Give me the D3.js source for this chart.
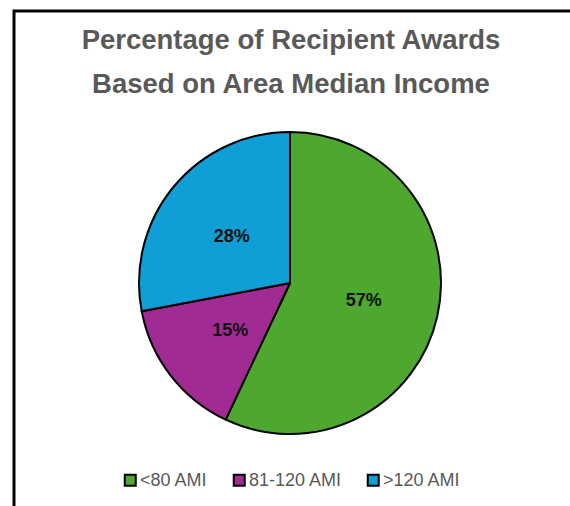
<!DOCTYPE html>
<html>
<head>
<meta charset="utf-8">
<script src="https://cdn.jsdelivr.net/npm/d3@7"></script>
<style>
  html, body { margin: 0; padding: 0; background: #fff; }
  svg { display: block; }
</style>
</head>
<body>
<svg id="chart" width="570" height="506"></svg>
<script>
const titleLines = ["Percentage of Recipient Awards", "Based on Area Median Income"];
const categories = ["<80 AMI", "81-120 AMI", ">120 AMI"];
const values = [57, 15, 28];
const labels = ["57%", "15%", "28%"];
const colors = ["#4EA72E", "#A02B93", "#0F9ED5"];

const svg = d3.select("#chart");
const W = 570, H = 506;

// frame (left and top edges visible)
svg.append("path")
  .attr("d", "M14,506 V11 H570")
  .attr("fill", "none")
  .attr("stroke", "#000")
  .attr("stroke-width", 3);

// title
const title = svg.append("text")
  .attr("text-anchor", "middle")
  .attr("font-family", "'Liberation Sans', Arial, sans-serif")
  .attr("font-weight", "bold")
  .attr("font-size", 27.5)
  .attr("fill", "#595959");
titleLines.forEach((t, i) => {
  title.append("tspan").attr("x", 291).attr("y", 49 + i * 44).text(t);
});

// pie
const cx = 290, cy = 283, r = 151;
const pie = d3.pie().sort(null).value(d => d)(values);
const arc = d3.arc().innerRadius(0).outerRadius(r);
const g = svg.append("g").attr("transform", `translate(${cx},${cy})`);
g.selectAll("path.slice").data(pie).join("path")
  .attr("class", "slice")
  .attr("d", arc)
  .attr("fill", (d, i) => colors[i])
  .attr("stroke", "#000")
  .attr("stroke-width", 2)
  .attr("stroke-linejoin", "round");

g.selectAll("text.lbl").data(pie).join("text")
  .attr("class", "lbl")
  .attr("transform", d => { const c = arc.centroid(d); return `translate(${c[0]},${c[1] + 1})`; })
  .attr("text-anchor", "middle")
  .attr("dominant-baseline", "central")
  .attr("font-family", "'Liberation Sans', Arial, sans-serif")
  .attr("font-weight", "bold")
  .attr("font-size", 18)
  .attr("fill", "#111")
  .text((d, i) => labels[i]);

// legend
const legendX = d3.scalePoint().domain(categories).range([124, 367]);
const leg = svg.append("g");
const items = leg.selectAll("g").data(categories).join("g")
  .attr("transform", (d, i) => `translate(${[124, 233, 367][i]},474)`);
items.append("rect")
  .attr("x", 0.75).attr("y", 0.75).attr("width", 11).attr("height", 11)
  .attr("fill", (d, i) => colors[i])
  .attr("stroke", "#000").attr("stroke-width", 2);
items.append("text")
  .attr("x", 16).attr("y", 12)
  .attr("font-family", "'Liberation Sans', Arial, sans-serif")
  .attr("font-size", 18)
  .attr("fill", "#595959")
  .text(d => d);
</script>
</body>
</html>
